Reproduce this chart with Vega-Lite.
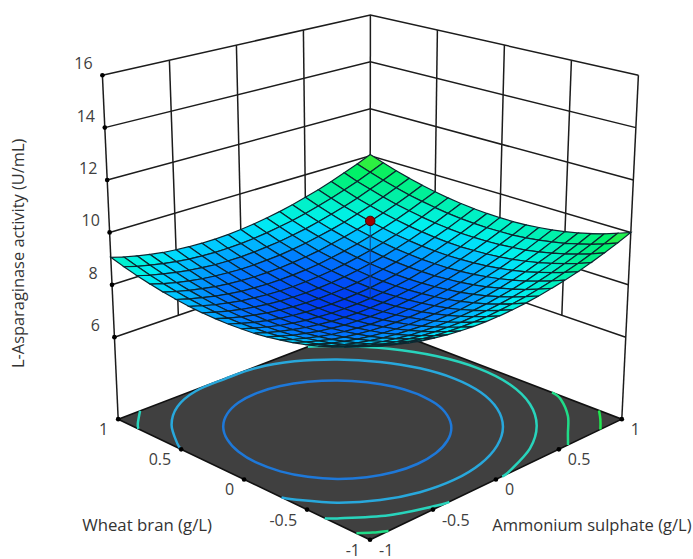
{"$schema":"https://vega.github.io/schema/vega-lite/v6.json","width":693,"height":559,"padding":0,"autosize":{"type":"fit","contains":"padding"},"background":"white","config":{"view":{"stroke":null}},
"datasets":{"surface":[
{"id":2020,"z":10.05},{"id":2019,"z":9.86},{"id":2018,"z":9.69},{"id":2017,"z":9.54},{"id":2016,"z":9.41},{"id":2015,"z":9.30},{"id":2014,"z":9.21},{"id":2013,"z":9.14},{"id":2012,"z":9.09},{"id":2011,"z":9.06},{"id":2010,"z":9.05},{"id":2009,"z":9.05},{"id":2008,"z":9.08},{"id":2007,"z":9.13},{"id":2006,"z":9.19},{"id":2005,"z":9.28},{"id":2004,"z":9.38},{"id":2003,"z":9.51},{"id":2002,"z":9.65},{"id":2001,"z":9.82},{"id":2000,"z":10.00},
{"id":1920,"z":9.81},{"id":1919,"z":9.63},{"id":1918,"z":9.46},{"id":1917,"z":9.31},{"id":1916,"z":9.18},{"id":1915,"z":9.08},{"id":1914,"z":8.99},{"id":1913,"z":8.92},{"id":1912,"z":8.87},{"id":1911,"z":8.84},{"id":1910,"z":8.83},{"id":1909,"z":8.84},{"id":1908,"z":8.86},{"id":1907,"z":8.91},{"id":1906,"z":8.98},{"id":1905,"z":9.07},{"id":1904,"z":9.17},{"id":1903,"z":9.30},{"id":1902,"z":9.44},{"id":1901,"z":9.61},{"id":1900,"z":9.79},
{"id":1820,"z":9.60},{"id":1819,"z":9.41},{"id":1818,"z":9.25},{"id":1817,"z":9.10},{"id":1816,"z":8.97},{"id":1815,"z":8.87},{"id":1814,"z":8.78},{"id":1813,"z":8.71},{"id":1812,"z":8.66},{"id":1811,"z":8.63},{"id":1810,"z":8.63},{"id":1809,"z":8.64},{"id":1808,"z":8.67},{"id":1807,"z":8.72},{"id":1806,"z":8.78},{"id":1805,"z":8.87},{"id":1804,"z":8.98},{"id":1803,"z":9.11},{"id":1802,"z":9.26},{"id":1801,"z":9.42},{"id":1800,"z":9.61},
{"id":1720,"z":9.40},{"id":1719,"z":9.22},{"id":1718,"z":9.05},{"id":1717,"z":8.91},{"id":1716,"z":8.78},{"id":1715,"z":8.68},{"id":1714,"z":8.59},{"id":1713,"z":8.53},{"id":1712,"z":8.48},{"id":1711,"z":8.45},{"id":1710,"z":8.44},{"id":1709,"z":8.46},{"id":1708,"z":8.49},{"id":1707,"z":8.54},{"id":1706,"z":8.61},{"id":1705,"z":8.70},{"id":1704,"z":8.81},{"id":1703,"z":8.94},{"id":1702,"z":9.09},{"id":1701,"z":9.25},{"id":1700,"z":9.44},
{"id":1620,"z":9.22},{"id":1619,"z":9.04},{"id":1618,"z":8.88},{"id":1617,"z":8.74},{"id":1616,"z":8.61},{"id":1615,"z":8.51},{"id":1614,"z":8.42},{"id":1613,"z":8.36},{"id":1612,"z":8.31},{"id":1611,"z":8.29},{"id":1610,"z":8.28},{"id":1609,"z":8.30},{"id":1608,"z":8.33},{"id":1607,"z":8.38},{"id":1606,"z":8.45},{"id":1605,"z":8.54},{"id":1604,"z":8.65},{"id":1603,"z":8.79},{"id":1602,"z":8.94},{"id":1601,"z":9.11},{"id":1600,"z":9.29},
{"id":1520,"z":9.07},{"id":1519,"z":8.89},{"id":1518,"z":8.73},{"id":1517,"z":8.58},{"id":1516,"z":8.46},{"id":1515,"z":8.36},{"id":1514,"z":8.28},{"id":1513,"z":8.21},{"id":1512,"z":8.17},{"id":1511,"z":8.14},{"id":1510,"z":8.14},{"id":1509,"z":8.15},{"id":1508,"z":8.19},{"id":1507,"z":8.24},{"id":1506,"z":8.32},{"id":1505,"z":8.41},{"id":1504,"z":8.52},{"id":1503,"z":8.65},{"id":1502,"z":8.81},{"id":1501,"z":8.98},{"id":1500,"z":9.17},
{"id":1420,"z":8.93},{"id":1419,"z":8.75},{"id":1418,"z":8.59},{"id":1417,"z":8.45},{"id":1416,"z":8.33},{"id":1415,"z":8.23},{"id":1414,"z":8.15},{"id":1413,"z":8.08},{"id":1412,"z":8.04},{"id":1411,"z":8.02},{"id":1410,"z":8.02},{"id":1409,"z":8.03},{"id":1408,"z":8.07},{"id":1407,"z":8.12},{"id":1406,"z":8.20},{"id":1405,"z":8.29},{"id":1404,"z":8.41},{"id":1403,"z":8.54},{"id":1402,"z":8.69},{"id":1401,"z":8.87},{"id":1400,"z":9.06},
{"id":1320,"z":8.81},{"id":1319,"z":8.63},{"id":1318,"z":8.47},{"id":1317,"z":8.34},{"id":1316,"z":8.22},{"id":1315,"z":8.12},{"id":1314,"z":8.04},{"id":1313,"z":7.98},{"id":1312,"z":7.94},{"id":1311,"z":7.91},{"id":1310,"z":7.91},{"id":1309,"z":7.93},{"id":1308,"z":7.97},{"id":1307,"z":8.03},{"id":1306,"z":8.10},{"id":1305,"z":8.20},{"id":1304,"z":8.31},{"id":1303,"z":8.45},{"id":1302,"z":8.60},{"id":1301,"z":8.78},{"id":1300,"z":8.97},
{"id":1220,"z":8.71},{"id":1219,"z":8.54},{"id":1218,"z":8.38},{"id":1217,"z":8.24},{"id":1216,"z":8.12},{"id":1215,"z":8.03},{"id":1214,"z":7.95},{"id":1213,"z":7.89},{"id":1212,"z":7.85},{"id":1211,"z":7.83},{"id":1210,"z":7.83},{"id":1209,"z":7.85},{"id":1208,"z":7.89},{"id":1207,"z":7.95},{"id":1206,"z":8.02},{"id":1205,"z":8.12},{"id":1204,"z":8.24},{"id":1203,"z":8.37},{"id":1202,"z":8.53},{"id":1201,"z":8.71},{"id":1200,"z":8.90},
{"id":1120,"z":8.63},{"id":1119,"z":8.46},{"id":1118,"z":8.30},{"id":1117,"z":8.17},{"id":1116,"z":8.05},{"id":1115,"z":7.95},{"id":1114,"z":7.88},{"id":1113,"z":7.82},{"id":1112,"z":7.78},{"id":1111,"z":7.76},{"id":1110,"z":7.76},{"id":1109,"z":7.79},{"id":1108,"z":7.83},{"id":1107,"z":7.89},{"id":1106,"z":7.97},{"id":1105,"z":8.06},{"id":1104,"z":8.18},{"id":1103,"z":8.32},{"id":1102,"z":8.48},{"id":1101,"z":8.66},{"id":1100,"z":8.85},
{"id":1020,"z":8.57},{"id":1019,"z":8.40},{"id":1018,"z":8.25},{"id":1017,"z":8.11},{"id":1016,"z":8.00},{"id":1015,"z":7.90},{"id":1014,"z":7.83},{"id":1013,"z":7.77},{"id":1012,"z":7.73},{"id":1011,"z":7.72},{"id":1010,"z":7.72},{"id":1009,"z":7.74},{"id":1008,"z":7.78},{"id":1007,"z":7.85},{"id":1006,"z":7.93},{"id":1005,"z":8.03},{"id":1004,"z":8.15},{"id":1003,"z":8.29},{"id":1002,"z":8.45},{"id":1001,"z":8.62},{"id":1000,"z":8.82},
{"id":920,"z":8.53},{"id":919,"z":8.36},{"id":918,"z":8.21},{"id":917,"z":8.08},{"id":916,"z":7.96},{"id":915,"z":7.87},{"id":914,"z":7.80},{"id":913,"z":7.74},{"id":912,"z":7.71},{"id":911,"z":7.69},{"id":910,"z":7.69},{"id":909,"z":7.72},{"id":908,"z":7.76},{"id":907,"z":7.82},{"id":906,"z":7.91},{"id":905,"z":8.01},{"id":904,"z":8.13},{"id":903,"z":8.27},{"id":902,"z":8.43},{"id":901,"z":8.61},{"id":900,"z":8.81},
{"id":820,"z":8.51},{"id":819,"z":8.34},{"id":818,"z":8.19},{"id":817,"z":8.06},{"id":816,"z":7.95},{"id":815,"z":7.86},{"id":814,"z":7.78},{"id":813,"z":7.73},{"id":812,"z":7.70},{"id":811,"z":7.68},{"id":810,"z":7.69},{"id":809,"z":7.71},{"id":808,"z":7.76},{"id":807,"z":7.82},{"id":806,"z":7.91},{"id":805,"z":8.01},{"id":804,"z":8.13},{"id":803,"z":8.28},{"id":802,"z":8.44},{"id":801,"z":8.62},{"id":800,"z":8.82},
{"id":720,"z":8.51},{"id":719,"z":8.34},{"id":718,"z":8.19},{"id":717,"z":8.06},{"id":716,"z":7.95},{"id":715,"z":7.86},{"id":714,"z":7.79},{"id":713,"z":7.74},{"id":712,"z":7.71},{"id":711,"z":7.70},{"id":710,"z":7.70},{"id":709,"z":7.73},{"id":708,"z":7.78},{"id":707,"z":7.84},{"id":706,"z":7.93},{"id":705,"z":8.03},{"id":704,"z":8.16},{"id":703,"z":8.30},{"id":702,"z":8.46},{"id":701,"z":8.65},{"id":700,"z":8.85},
{"id":620,"z":8.53},{"id":619,"z":8.36},{"id":618,"z":8.21},{"id":617,"z":8.09},{"id":616,"z":7.98},{"id":615,"z":7.89},{"id":614,"z":7.82},{"id":613,"z":7.77},{"id":612,"z":7.74},{"id":611,"z":7.73},{"id":610,"z":7.74},{"id":609,"z":7.76},{"id":608,"z":7.81},{"id":607,"z":7.88},{"id":606,"z":7.97},{"id":605,"z":8.07},{"id":604,"z":8.20},{"id":603,"z":8.34},{"id":602,"z":8.51},{"id":601,"z":8.69},{"id":600,"z":8.90},
{"id":520,"z":8.57},{"id":519,"z":8.40},{"id":518,"z":8.26},{"id":517,"z":8.13},{"id":516,"z":8.02},{"id":515,"z":7.93},{"id":514,"z":7.87},{"id":513,"z":7.82},{"id":512,"z":7.79},{"id":511,"z":7.78},{"id":510,"z":7.79},{"id":509,"z":7.82},{"id":508,"z":7.87},{"id":507,"z":7.94},{"id":506,"z":8.03},{"id":505,"z":8.13},{"id":504,"z":8.26},{"id":503,"z":8.41},{"id":502,"z":8.58},{"id":501,"z":8.76},{"id":500,"z":8.97},
{"id":420,"z":8.62},{"id":419,"z":8.46},{"id":418,"z":8.32},{"id":417,"z":8.19},{"id":416,"z":8.08},{"id":415,"z":8.00},{"id":414,"z":7.93},{"id":413,"z":7.89},{"id":412,"z":7.86},{"id":411,"z":7.85},{"id":410,"z":7.86},{"id":409,"z":7.89},{"id":408,"z":7.94},{"id":407,"z":8.01},{"id":406,"z":8.10},{"id":405,"z":8.21},{"id":404,"z":8.34},{"id":403,"z":8.49},{"id":402,"z":8.66},{"id":401,"z":8.85},{"id":400,"z":9.05},
{"id":320,"z":8.70},{"id":319,"z":8.54},{"id":318,"z":8.40},{"id":317,"z":8.27},{"id":316,"z":8.17},{"id":315,"z":8.08},{"id":314,"z":8.02},{"id":313,"z":7.97},{"id":312,"z":7.95},{"id":311,"z":7.94},{"id":310,"z":7.95},{"id":309,"z":7.99},{"id":308,"z":8.04},{"id":307,"z":8.11},{"id":306,"z":8.20},{"id":305,"z":8.31},{"id":304,"z":8.44},{"id":303,"z":8.59},{"id":302,"z":8.76},{"id":301,"z":8.95},{"id":300,"z":9.16},
{"id":220,"z":8.80},{"id":219,"z":8.64},{"id":218,"z":8.50},{"id":217,"z":8.37},{"id":216,"z":8.27},{"id":215,"z":8.19},{"id":214,"z":8.12},{"id":213,"z":8.08},{"id":212,"z":8.06},{"id":211,"z":8.05},{"id":210,"z":8.07},{"id":209,"z":8.10},{"id":208,"z":8.15},{"id":207,"z":8.23},{"id":206,"z":8.32},{"id":205,"z":8.43},{"id":204,"z":8.56},{"id":203,"z":8.72},{"id":202,"z":8.89},{"id":201,"z":9.08},{"id":200,"z":9.29},
{"id":120,"z":8.91},{"id":119,"z":8.75},{"id":118,"z":8.61},{"id":117,"z":8.49},{"id":116,"z":8.39},{"id":115,"z":8.31},{"id":114,"z":8.25},{"id":113,"z":8.21},{"id":112,"z":8.18},{"id":111,"z":8.18},{"id":110,"z":8.20},{"id":109,"z":8.23},{"id":108,"z":8.29},{"id":107,"z":8.36},{"id":106,"z":8.46},{"id":105,"z":8.57},{"id":104,"z":8.70},{"id":103,"z":8.86},{"id":102,"z":9.03},{"id":101,"z":9.22},{"id":100,"z":9.43},
{"id":20,"z":9.05},{"id":19,"z":8.89},{"id":18,"z":8.75},{"id":17,"z":8.63},{"id":16,"z":8.53},{"id":15,"z":8.45},{"id":14,"z":8.39},{"id":13,"z":8.35},{"id":12,"z":8.33},{"id":11,"z":8.33},{"id":10,"z":8.35},{"id":9,"z":8.38},{"id":8,"z":8.44},{"id":7,"z":8.52},{"id":6,"z":8.61},{"id":5,"z":8.73},{"id":4,"z":8.86},{"id":3,"z":9.02},{"id":2,"z":9.19},{"id":1,"z":9.39},{"id":0,"z":9.60}
]},
"data":{"values":[
{"k":"w","s":"z6","a":-1,"b":1,"z":6},{"k":"w","s":"z6","a":1,"b":1,"z":6},{"k":"w","s":"z6","a":1,"b":-1,"z":6},
{"k":"w","s":"z8","a":-1,"b":1,"z":8},{"k":"w","s":"z8","a":1,"b":1,"z":8},{"k":"w","s":"z8","a":1,"b":-1,"z":8},
{"k":"w","s":"z10","a":-1,"b":1,"z":10},{"k":"w","s":"z10","a":1,"b":1,"z":10},{"k":"w","s":"z10","a":1,"b":-1,"z":10},
{"k":"w","s":"z12","a":-1,"b":1,"z":12},{"k":"w","s":"z12","a":1,"b":1,"z":12},{"k":"w","s":"z12","a":1,"b":-1,"z":12},
{"k":"w","s":"z14","a":-1,"b":1,"z":14},{"k":"w","s":"z14","a":1,"b":1,"z":14},{"k":"w","s":"z14","a":1,"b":-1,"z":14},
{"k":"w","s":"z16","a":-1,"b":1,"z":16},{"k":"w","s":"z16","a":1,"b":1,"z":16},{"k":"w","s":"z16","a":1,"b":-1,"z":16},
{"k":"w","s":"v1","a":-1,"b":1,"z":2.87},{"k":"w","s":"v1","a":-1,"b":1,"z":16},
{"k":"w","s":"v2","a":-0.5,"b":1,"z":6},{"k":"w","s":"v2","a":-0.5,"b":1,"z":16},
{"k":"w","s":"v3","a":0,"b":1,"z":6},{"k":"w","s":"v3","a":0,"b":1,"z":16},
{"k":"w","s":"v4","a":0.5,"b":1,"z":6},{"k":"w","s":"v4","a":0.5,"b":1,"z":16},
{"k":"w","s":"v5","a":1,"b":1,"z":6},{"k":"w","s":"v5","a":1,"b":1,"z":16},
{"k":"w","s":"v6","a":1,"b":0.5,"z":6},{"k":"w","s":"v6","a":1,"b":0.5,"z":16},
{"k":"w","s":"v7","a":1,"b":0,"z":6},{"k":"w","s":"v7","a":1,"b":0,"z":16},
{"k":"w","s":"v8","a":1,"b":-0.5,"z":6},{"k":"w","s":"v8","a":1,"b":-0.5,"z":16},
{"k":"w","s":"v9","a":1,"b":-1,"z":2.87},{"k":"w","s":"v9","a":1,"b":-1,"z":16},
{"k":"f","s":"floor","a":-1,"b":1},{"k":"f","s":"floor","a":-1,"b":-1},{"k":"f","s":"floor","a":1,"b":-1},{"k":"f","s":"floor","a":1,"b":1},{"k":"f","s":"floor","a":-1,"b":1},
{"k":"c","l":"1","s":"c1","a":0.48,"b":0.10},{"k":"c","l":"1","s":"c1","a":0.458,"b":0.266},{"k":"c","l":"1","s":"c1","a":0.394,"b":0.42},{"k":"c","l":"1","s":"c1","a":0.293,"b":0.553},{"k":"c","l":"1","s":"c1","a":0.16,"b":0.654},{"k":"c","l":"1","s":"c1","a":0.006,"b":0.718},{"k":"c","l":"1","s":"c1","a":-0.16,"b":0.74},{"k":"c","l":"1","s":"c1","a":-0.326,"b":0.718},{"k":"c","l":"1","s":"c1","a":-0.48,"b":0.654},{"k":"c","l":"1","s":"c1","a":-0.613,"b":0.553},{"k":"c","l":"1","s":"c1","a":-0.714,"b":0.42},{"k":"c","l":"1","s":"c1","a":-0.778,"b":0.266},{"k":"c","l":"1","s":"c1","a":-0.8,"b":0.10},{"k":"c","l":"1","s":"c1","a":-0.778,"b":-0.066},{"k":"c","l":"1","s":"c1","a":-0.714,"b":-0.22},{"k":"c","l":"1","s":"c1","a":-0.613,"b":-0.353},{"k":"c","l":"1","s":"c1","a":-0.48,"b":-0.454},{"k":"c","l":"1","s":"c1","a":-0.326,"b":-0.518},{"k":"c","l":"1","s":"c1","a":-0.16,"b":-0.54},{"k":"c","l":"1","s":"c1","a":0.006,"b":-0.518},{"k":"c","l":"1","s":"c1","a":0.16,"b":-0.454},{"k":"c","l":"1","s":"c1","a":0.293,"b":-0.353},{"k":"c","l":"1","s":"c1","a":0.394,"b":-0.22},{"k":"c","l":"1","s":"c1","a":0.458,"b":-0.066},{"k":"c","l":"1","s":"c1","a":0.48,"b":0.10},
{"k":"c","l":"2","s":"c2","a":-1,"b":-0.297},{"k":"c","l":"2","s":"c2","a":-0.965,"b":-0.365},{"k":"c","l":"2","s":"c2","a":-0.818,"b":-0.558},{"k":"c","l":"2","s":"c2","a":-0.625,"b":-0.705},{"k":"c","l":"2","s":"c2","a":-0.401,"b":-0.798},{"k":"c","l":"2","s":"c2","a":-0.16,"b":-0.83},{"k":"c","l":"2","s":"c2","a":0.081,"b":-0.798},{"k":"c","l":"2","s":"c2","a":0.305,"b":-0.705},{"k":"c","l":"2","s":"c2","a":0.498,"b":-0.558},{"k":"c","l":"2","s":"c2","a":0.645,"b":-0.365},{"k":"c","l":"2","s":"c2","a":0.738,"b":-0.141},{"k":"c","l":"2","s":"c2","a":0.77,"b":0.10},{"k":"c","l":"2","s":"c2","a":0.738,"b":0.341},{"k":"c","l":"2","s":"c2","a":0.645,"b":0.565},{"k":"c","l":"2","s":"c2","a":0.498,"b":0.758},{"k":"c","l":"2","s":"c2","a":0.305,"b":0.905},{"k":"c","l":"2","s":"c2","a":0.081,"b":0.985},{"k":"c","l":"2","s":"c2","a":-0.16,"b":0.995},{"k":"c","l":"2","s":"c2","a":-0.401,"b":0.985},{"k":"c","l":"2","s":"c2","a":-0.625,"b":0.905},{"k":"c","l":"2","s":"c2","a":-0.818,"b":0.758},{"k":"c","l":"2","s":"c2","a":-0.965,"b":0.565},{"k":"c","l":"2","s":"c2","a":-1,"b":0.497},
{"k":"c","l":"3","s":"c3a","a":0.05,"b":-1},{"k":"c","l":"3","s":"c3a","a":0.13,"b":-0.982},{"k":"c","l":"3","s":"c3a","a":0.40,"b":-0.87},{"k":"c","l":"3","s":"c3a","a":0.632,"b":-0.692},{"k":"c","l":"3","s":"c3a","a":0.81,"b":-0.46},{"k":"c","l":"3","s":"c3a","a":0.922,"b":-0.19},{"k":"c","l":"3","s":"c3a","a":0.96,"b":0.10},{"k":"c","l":"3","s":"c3a","a":0.922,"b":0.39},{"k":"c","l":"3","s":"c3a","a":0.81,"b":0.66},{"k":"c","l":"3","s":"c3a","a":0.632,"b":0.892},{"k":"c","l":"3","s":"c3a","a":0.506,"b":1},
{"k":"c","l":"3","s":"c3b","a":-0.826,"b":1},{"k":"c","l":"3","s":"c3b","a":-0.952,"b":0.892},{"k":"c","l":"3","s":"c3b","a":-1,"b":0.84},
{"k":"c","l":"3","s":"c3c","a":-1,"b":-0.64},{"k":"c","l":"3","s":"c3c","a":-0.952,"b":-0.692},{"k":"c","l":"3","s":"c3c","a":-0.72,"b":-0.87},{"k":"c","l":"3","s":"c3c","a":-0.45,"b":-0.982},{"k":"c","l":"3","s":"c3c","a":-0.37,"b":-1},
{"k":"c","l":"4","s":"c4a","a":0.573,"b":-1},{"k":"c","l":"4","s":"c4a","a":0.676,"b":-0.896},{"k":"c","l":"4","s":"c4a","a":0.836,"b":-0.736},{"k":"c","l":"4","s":"c4a","a":0.966,"b":-0.55},{"k":"c","l":"4","s":"c4a","a":1,"b":-0.445},
{"k":"c","l":"4","s":"c4b","a":-1,"b":-0.892},{"k":"c","l":"4","s":"c4b","a":-0.93,"b":-0.95},{"k":"c","l":"4","s":"c4b","a":-0.853,"b":-1},
{"k":"c","l":"4","s":"c4c","a":0.778,"b":1},{"k":"c","l":"4","s":"c4c","a":0.9,"b":0.85},{"k":"c","l":"4","s":"c4c","a":1,"b":0.687},
{"k":"c","l":"5","s":"c5","a":0.83,"b":-1},{"k":"c","l":"5","s":"c5","a":0.92,"b":-0.91},{"k":"c","l":"5","s":"c5","a":1,"b":-0.819},
{"k":"s","s":"stem","a":0,"b":0,"z":10.68},{"k":"s","s":"stem","a":0,"b":0,"z":7.72},
{"k":"d","a":0,"b":0,"z":10.68},
{"k":"t","a":-1,"b":1,"z":16},{"k":"t","a":-1,"b":1,"z":14},{"k":"t","a":-1,"b":1,"z":12},{"k":"t","a":-1,"b":1,"z":10},{"k":"t","a":-1,"b":1,"z":8},{"k":"t","a":-1,"b":1,"z":6},
{"k":"t","a":-1,"b":1},{"k":"t","a":-1,"b":0.5},{"k":"t","a":-1,"b":0},{"k":"t","a":-1,"b":-0.5},{"k":"t","a":-1,"b":-1},{"k":"t","a":-0.5,"b":-1},{"k":"t","a":0,"b":-1},{"k":"t","a":0.5,"b":-1},{"k":"t","a":1,"b":-1},
{"k":"zl","t":"16","a":-1,"b":1,"z":16},{"k":"zl","t":"14","a":-1,"b":1,"z":14},{"k":"zl","t":"12","a":-1,"b":1,"z":12},{"k":"zl","t":"10","a":-1,"b":1,"z":10},{"k":"zl","t":"8","a":-1,"b":1,"z":8},{"k":"zl","t":"6","a":-1,"b":1,"z":6},
{"k":"fl","t":"1","a":-1,"b":1},{"k":"fl","t":"0.5","a":-1,"b":0.5},{"k":"fl","t":"0","a":-1,"b":0},{"k":"fl","t":"-0.5","a":-1,"b":-0.5},{"k":"fl","t":"-1","a":-1,"b":-1},
{"k":"fr","t":"-1","a":-1,"b":-1},{"k":"fr","t":"-0.5","a":-0.5,"b":-1},{"k":"fr","t":"0","a":0,"b":-1},{"k":"fr","t":"0.5","a":0.5,"b":-1},{"k":"fr","t":"1","a":1,"b":-1},
{"k":"tw","t":"Wheat bran (g/L)","a":-1,"b":0},
{"k":"ta","t":"Ammonium sulphate (g/L)","a":0,"b":-1},
{"k":"tz","t":"L-Asparaginase activity (U/mL)","a":-1,"b":1,"z":9.2}
]},
"transform":[
{"window":[{"op":"row_number","as":"seq"}]},
{"calculate":"datum.z==null?0:(datum.z-2.87)/13.13","as":"zt"},
{"calculate":"(370+125.9*(datum.a-datum.b))*(1-datum.zt)+(370.4+134*(datum.a-datum.b))*datum.zt","as":"sx"},
{"calculate":"(426.8-54.4*(datum.a+datum.b)+6.1*datum.a*datum.b)*(1-datum.zt)+(82-36.75*(datum.a+datum.b)+6.5*datum.a*datum.b)*datum.zt","as":"sy"}
],
"encoding":{
"x":{"field":"sx","type":"quantitative","axis":null,"scale":{"domain":[0,693],"nice":false,"zero":false}},
"y":{"field":"sy","type":"quantitative","axis":null,"scale":{"domain":[559,0],"nice":false,"zero":false}}
},
"layer":[
{"transform":[{"filter":"datum.k=='w'"}],"mark":{"type":"line","stroke":"#1c1c1c","strokeWidth":1.5},"encoding":{"detail":{"field":"s"},"order":{"field":"seq"}}},
{"transform":[{"filter":"datum.k=='f'"}],"mark":{"type":"line","stroke":"#111111","strokeWidth":1.6,"fill":"#404040"},"encoding":{"detail":{"field":"s"},"order":{"field":"seq"}}},
{"transform":[{"filter":"datum.k=='c'"}],"mark":{"type":"line","strokeWidth":2.5,"interpolate":"cardinal"},"encoding":{"detail":{"field":"s"},"order":{"field":"seq"},"color":{"field":"l","type":"nominal","legend":null,"scale":{"domain":["1","2","3","4","5"],"range":["#1e78d8","#28a8dc","#28d4bc","#20dc88","#20e850"]}}}},
{"data":{"name":"surface"},"transform":[
{"calculate":"floor(datum.id/100)","as":"i"},
{"calculate":"datum.id%100","as":"j"},
{"filter":"datum.i>0&&datum.j>0"},
{"calculate":"[[0,0,0],[1,0,1],[1,1,2],[0,1,3],[0,0,4]]","as":"corner"},
{"flatten":["corner"]},
{"calculate":"datum.corner[2]","as":"ord"},
{"calculate":"datum.i-datum.corner[0]","as":"ni"},
{"calculate":"datum.j-datum.corner[1]","as":"nj"},
{"calculate":"datum.ni*100+datum.nj","as":"node"},
{"lookup":"node","from":{"data":{"name":"surface"},"key":"id","fields":["z"]},"as":["cz"]},
{"joinaggregate":[{"op":"mean","field":"cz","as":"zmean"}],"groupby":["id"]},
{"calculate":"-1+0.1*datum.ni","as":"a"},
{"calculate":"-1+0.1*datum.nj","as":"b"},
{"calculate":"(datum.cz-2.87)/13.13","as":"zt"},
{"calculate":"(370+125.9*(datum.a-datum.b))*(1-datum.zt)+(370.4+134*(datum.a-datum.b))*datum.zt","as":"sx"},
{"calculate":"(426.8-54.4*(datum.a+datum.b)+6.1*datum.a*datum.b)*(1-datum.zt)+(82-36.75*(datum.a+datum.b)+6.5*datum.a*datum.b)*datum.zt","as":"sy"}
],
"mark":{"type":"line","stroke":"#0c2630","strokeWidth":1.2},
"encoding":{"detail":{"field":"id"},"order":{"field":"ord"},"fill":{"field":"zmean","type":"quantitative","legend":null,"scale":{"domain":[7.68,8.1,8.65,9.2,9.8],"range":["#0038f0","#0080ff","#00f0f0","#00f0a0","#20f050"]}}}},
{"transform":[{"filter":"datum.k=='s'"}],"mark":{"type":"line","stroke":"#123a80","strokeWidth":1},"encoding":{"detail":{"field":"s"},"order":{"field":"seq"}}},
{"transform":[{"filter":"datum.k=='d'"}],"mark":{"type":"point","filled":true,"fill":"#a00000","stroke":"#4a0000","strokeWidth":1,"opacity":1,"size":90}},
{"transform":[{"filter":"datum.k=='t'"}],"mark":{"type":"point","filled":true,"fill":"#000000","opacity":1,"size":22}},
{"transform":[{"filter":"datum.k=='zl'"}],"mark":{"type":"text","font":"Open Sans","fontSize":16,"fill":"#404040","align":"center","baseline":"middle","dx":-19,"dy":-11},"encoding":{"text":{"field":"t"}}},
{"transform":[{"filter":"datum.k=='fl'"}],"mark":{"type":"text","font":"Open Sans","fontSize":16,"fill":"#404040","align":"right","baseline":"middle","dx":-10,"dy":11},"encoding":{"text":{"field":"t"}}},
{"transform":[{"filter":"datum.k=='fr'"}],"mark":{"type":"text","font":"Open Sans","fontSize":16,"fill":"#404040","align":"left","baseline":"middle","dx":9,"dy":11},"encoding":{"text":{"field":"t"}}},
{"transform":[{"filter":"datum.k=='tw'"}],"mark":{"type":"text","font":"Open Sans","fontSize":16.8,"fill":"#333333","align":"center","baseline":"middle","dx":-97,"dy":47},"encoding":{"text":{"field":"t"}}},
{"transform":[{"filter":"datum.k=='ta'"}],"mark":{"type":"text","font":"Open Sans","fontSize":16.5,"fill":"#333333","align":"center","baseline":"middle","dx":96,"dy":47},"encoding":{"text":{"field":"t"}}},
{"transform":[{"filter":"datum.k=='tz'"}],"mark":{"type":"text","font":"Open Sans","fontSize":16.4,"fill":"#333333","align":"center","baseline":"middle","angle":270,"dy":-92},"encoding":{"text":{"field":"t"}}}
]}
